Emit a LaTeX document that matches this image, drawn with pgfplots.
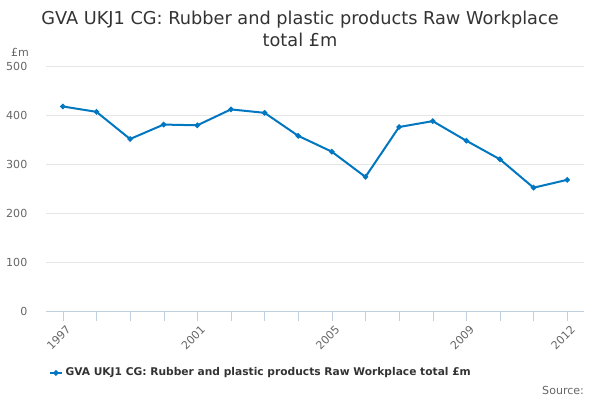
\documentclass[border=0pt]{standalone}
\usepackage{fontspec}
\setmainfont{DejaVu Sans}
\usepackage{pgfplots}
\pgfplotsset{compat=1.18}
\definecolor{line}{HTML}{0077C0}
\definecolor{gridc}{HTML}{E6E6E6}
\definecolor{axc}{HTML}{C0D0E0}
\definecolor{lab}{HTML}{666666}
\definecolor{tit}{HTML}{333333}
\begin{document}
\begin{tikzpicture}[x=1pt,y=1pt]
\path[use as bounding box] (0,0) rectangle (450,300);
\node[font=\fontsize{13.3}{16}\selectfont, text=tit] at (225,285) {GVA UKJ1 CG: Rubber and plastic products Raw Workplace};
\node[font=\fontsize{13.3}{16}\selectfont, text=tit] at (225,270) {total £m};
\node[font=\fontsize{8.3}{10}\selectfont, text=lab] at (15,261) {£m};
\node[font=\fontsize{8.3}{10}\selectfont, text=lab, anchor=east] at (441.5,7.5) {Source:};
\begin{axis}[
  at={(34.5pt,66.75pt)}, anchor=south west,
  scale only axis, width=403.5pt, height=183.5pt,
  xmin=1996.5, xmax=2012.5, ymin=0, ymax=500,
  axis x line*=bottom, axis y line*=left,
  x axis line style={draw=axc, -},
  y axis line style={draw=none},
  xtick={1997,2001,2005,2009,2012},
  minor xtick={1998,1999,2000,2002,2003,2004,2006,2007,2008,2010,2011},
  tick align=outside, major tick length=7.5pt, minor tick length=7.5pt,
  xtick style={draw=axc},
  ytick style={draw=none},
  ytick={0,100,200,300,400,500},
  ymajorgrids, grid style={draw=gridc},
  /pgf/number format/assume math mode=true,
  /pgf/number format/1000 sep={},
  ticklabel style={font=\fontsize{8.3}{10}\selectfont, text=lab},
  xticklabel style={rotate=45, anchor=north east, xshift=3pt},
  yticklabel style={xshift=-3pt},
  legend style={at={(0.40,-0.253)}, anchor=center, draw=none, fill=none,
    font=\fontsize{8}{10}\selectfont\bfseries, text=tit},
  legend image code/.code={\draw[mark repeat=2,mark phase=2,#1] plot coordinates {(0pt,0pt) (4.5pt,0pt) (9pt,0pt)};},
]
\addplot[line, line width=1.5pt, mark=*, mark size=1.2pt] coordinates {
(1997,418) (1998,407) (1999,351.5) (2000,381) (2001,379.5) (2002,412)
(2003,405) (2004,358) (2005,325.6) (2006,274) (2007,376) (2008,388)
(2009,348) (2010,310) (2011,252) (2012,268)
};
\addlegendentry{GVA UKJ1 CG: Rubber and plastic products Raw Workplace total £m}
\end{axis}
\end{tikzpicture}
\end{document}
